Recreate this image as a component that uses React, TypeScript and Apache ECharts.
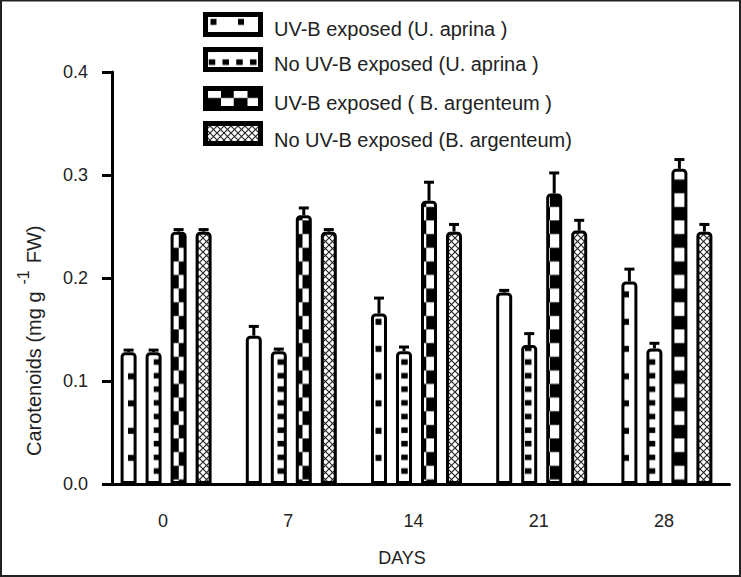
import React, { useEffect, useRef } from 'react';
import * as echarts from 'echarts';

// ---- data ----
const days = ['0', '7', '14', '21', '28'];
const seriesNames = [
  'UV-B exposed (U. aprina )',
  'No UV-B exposed (U. aprina )',
  'UV-B exposed ( B. argenteum )',
  'No UV-B exposed (B. argenteum)',
];
const uvbAprina = [0.128, 0.144, 0.1655, 0.186, 0.1966];
const uvbAprinaErr = [0.002, 0.009, 0.015, 0.002, 0.012];
const noUvbAprina = [0.128, 0.129, 0.129, 0.135, 0.1316];
const noUvbAprinaErr = [0.002, 0.002, 0.004, 0.011, 0.005];
const uvbArgenteum = [0.245, 0.261, 0.275, 0.282, 0.306];
const uvbArgenteumErr = [0.002, 0.007, 0.018, 0.02, 0.009];
const noUvbArgenteum = [0.245, 0.245, 0.245, 0.246, 0.245];
const noUvbArgenteumErr = [0.002, 0.002, 0.007, 0.01, 0.007];
const yMin = 0;
const yMax = 0.4;
const yStep = 0.1;
const yTitleMain = 'Carotenoids (mg g';
const yTitleSup = '-1';
const yTitleEnd = 'FW)';
const xTitle = 'DAYS';

const FONT = '"Liberation Sans", Arial, sans-serif';
const BAR_WIDTH = 16;
const BAR_GAP = 0.5625;
const PITCH = BAR_WIDTH * (1 + BAR_GAP);

// legend layout (box tops and text centres)
const LEGEND_BOX_X = 205.5;
const LEGEND_BOX_TOPS = [14.5, 49.5, 88.5, 123.5];
const LEGEND_TEXT_Y = [28.5, 64, 103, 140];
const LEGEND_TEXT_X = 274;

type Drawer = (ctx: CanvasRenderingContext2D) => void;

function makeTile(w: number, h: number, scale: number, draw: Drawer) {
  const c = document.createElement('canvas');
  c.width = Math.round(w * scale);
  c.height = Math.round(h * scale);
  const ctx = c.getContext('2d') as CanvasRenderingContext2D;
  ctx.scale(c.width / w, c.height / h);
  ctx.fillStyle = '#fff';
  ctx.fillRect(0, 0, w, h);
  ctx.fillStyle = '#000';
  ctx.strokeStyle = '#000';
  draw(ctx);
  return { image: c.toDataURL(), repeat: 'repeat', imageWidth: w, imageHeight: h };
}

function buildPatterns() {
  const TW = 55;
  const TH = 54.5;
  const p1 = makeTile(TW, TH, 2, (ctx) => {
    for (let i = 0; i < 2; i++)
      for (let j = 0; j < 2; j++) ctx.fillRect(18 + 27.5 * i, 19 + 27.25 * j, 6, 6);
  });
  const p2 = makeTile(TW, TH, 2, (ctx) => {
    for (let i = 0; i < 4; i++)
      for (let j = 0; j < 4; j++) ctx.fillRect(2.5 + 13.75 * i, 5 + 13.625 * j, 6.5, 5.5);
  });
  const p3 = makeTile(TW, TH, 2, (ctx) => {
    for (let c = 0; c < 4; c++)
      for (let r = -1; r < 4; r++)
        if ((((c + r) % 2) + 2) % 2 === 0) ctx.fillRect(c * 13.75, 2.5 + r * 13.625, 13.75, 13.625);
  });
  const p4 = makeTile(7, 7, 4, (ctx) => {
    ctx.strokeStyle = '#222';
    ctx.lineWidth = 1.1;
    for (const o of [-7, 0, 7]) {
      ctx.beginPath();
      ctx.moveTo(o, 0);
      ctx.lineTo(o + 7, 7);
      ctx.stroke();
      ctx.beginPath();
      ctx.moveTo(o + 7, 0);
      ctx.lineTo(o, 7);
      ctx.stroke();
    }
  });
  return [p1, p2, p3, p4];
}

function measure(text: string, size: number) {
  const c = document.createElement('canvas');
  const ctx = c.getContext('2d') as CanvasRenderingContext2D;
  ctx.font = `${size}px "Liberation Sans", Arial, sans-serif`;
  return ctx.measureText(text).width;
}

export default function App() {
  const ref = useRef<HTMLDivElement>(null);

  useEffect(() => {
    if (!ref.current) return;
    const chart = echarts.init(ref.current, undefined, { renderer: 'svg' });
    const patterns = buildPatterns();
    const values = [uvbAprina, noUvbAprina, uvbArgenteum, noUvbArgenteum];
    const errors = [uvbAprinaErr, noUvbAprinaErr, uvbArgenteumErr, noUvbArgenteumErr];

    const errData: number[][] = [];
    values.forEach((vals, s) =>
      vals.forEach((v, i) => errData.push([i, s, v, errors[s][i]]))
    );

    const barSeries = values.map((vals, s) => ({
      name: seriesNames[s],
      type: 'bar',
      data: vals,
      barWidth: BAR_WIDTH,
      barGap: `${BAR_GAP * 100}%`,
      itemStyle: {
        color: patterns[s],
        borderColor: '#000',
        borderWidth: 3,
        borderRadius: [3, 3, 0, 0],
      },
      emphasis: { disabled: true },
    }));

    const titleSize = 20;
    const supSize = 16;
    const w1 = measure(yTitleMain, titleSize);
    const wSup = measure(yTitleSup, supSize);

    const legendGraphics: any[] = [];
    seriesNames.forEach((name, s) => {
      legendGraphics.push({
        type: 'rect',
        shape: { x: LEGEND_BOX_X, y: LEGEND_BOX_TOPS[s], width: 55, height: 20 },
        style: { fill: patterns[s], stroke: '#000', lineWidth: 5 },
        silent: true,
      });
      legendGraphics.push({
        type: 'text',
        x: LEGEND_TEXT_X,
        y: LEGEND_TEXT_Y[s],
        style: {
          text: name,
          fontSize: 20,
          fontFamily: FONT,
          fill: '#222',
          align: 'left',
          verticalAlign: 'middle',
        },
      });
    });

    chart.setOption({
      animation: false,
      grid: { left: 103.5, right: 11.5, top: 72, bottom: 93, containLabel: false },
      xAxis: {
        type: 'category',
        data: days,
        axisLine: { lineStyle: { color: '#000', width: 3 } },
        axisTick: { show: false },
        axisLabel: { fontSize: 18, fontFamily: FONT, color: '#222', margin: 28, padding: [0, 6, 0, 0] },
      },
      yAxis: {
        type: 'value',
        min: yMin,
        max: yMax,
        interval: yStep,
        offset: -8.5,
        axisLine: { show: true, lineStyle: { color: '#000', width: 3 } },
        axisTick: { show: true, length: 10, lineStyle: { color: '#000', width: 3 } },
        splitLine: { show: false },
        axisLabel: {
          fontSize: 18,
          fontFamily: FONT,
          color: '#222',
          margin: 24,
          formatter: (v: number) => v.toFixed(1),
        },
      },
      series: [
        ...barSeries,
        {
          type: 'custom',
          name: 'errors',
          data: errData,
          z: 3,
          silent: true,
          renderItem: (_params: any, api: any) => {
            const cat = api.value(0);
            const s = api.value(1);
            const mean = api.value(2);
            const err = api.value(3);
            const base = api.coord([cat, mean]);
            const top = api.coord([cat, mean + err]);
            const x = base[0] + (s - 1.5) * PITCH;
            return {
              type: 'group',
              children: [
                {
                  type: 'line',
                  shape: { x1: x, y1: base[1], x2: x, y2: top[1] },
                  style: { stroke: '#000', lineWidth: 3 },
                },
                {
                  type: 'line',
                  shape: { x1: x - 5, y1: top[1], x2: x + 5, y2: top[1] },
                  style: { stroke: '#000', lineWidth: 3 },
                },
              ],
            };
          },
        },
      ],
      graphic: [
        {
          type: 'rect',
          shape: { x: 1, y: 0.5, width: 739, height: 575.5 },
          style: { fill: 'none', stroke: '#222', lineWidth: 2 },
          silent: true,
        },
        ...legendGraphics,
        {
          type: 'text',
          x: 402,
          y: 558,
          style: {
            text: xTitle,
            fontSize: 18,
            fontFamily: FONT,
            fill: '#222',
            align: 'center',
            verticalAlign: 'middle',
          },
        },
        {
          type: 'group',
          x: 44,
          y: 456,
          rotation: Math.PI / 2,
          children: [
            {
              type: 'text',
              x: 0,
              y: 0,
              style: { text: yTitleMain, fontSize: titleSize, fontFamily: FONT, fill: '#222', align: 'left', verticalAlign: 'bottom' },
            },
            {
              type: 'text',
              x: w1 + 7,
              y: -13,
              style: { text: yTitleSup, fontSize: supSize, fontFamily: FONT, fill: '#222', align: 'left', verticalAlign: 'bottom' },
            },
            {
              type: 'text',
              x: w1 + 7 + wSup + 7,
              y: 0,
              style: { text: yTitleEnd, fontSize: titleSize, fontFamily: FONT, fill: '#222', align: 'left', verticalAlign: 'bottom' },
            },
          ],
        },
      ],
    });

    return () => chart.dispose();
  }, []);

  return (
    <div
      ref={ref}
      style={{ position: 'absolute', left: 0, top: 0, width: 741, height: 577, background: '#fff' }}
    />
  );
}
